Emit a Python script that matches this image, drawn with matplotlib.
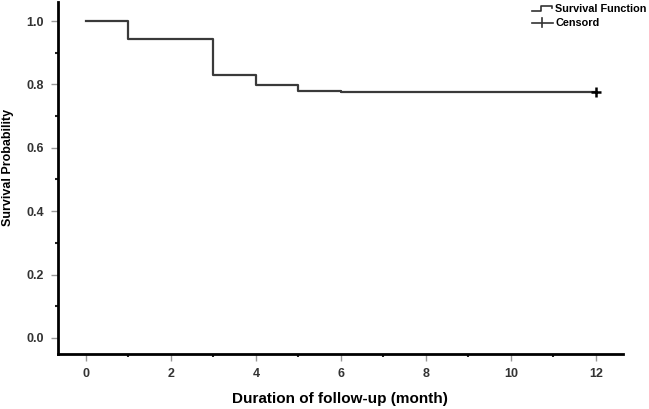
import matplotlib
matplotlib.use("Agg")
import matplotlib.pyplot as plt
from matplotlib.legend_handler import HandlerBase
from matplotlib.lines import Line2D

matplotlib.rcParams.update({'font.family': ['Liberation Sans', 'DejaVu Sans'],
                            'font.weight': 'bold'})

# survival step function (time in months, survival probability)
times = [0, 1, 3, 4, 5, 6, 12]
survival = [1.0, 0.944, 0.831, 0.797, 0.780, 0.776, 0.776]
censor_time = [12]
censor_surv = [0.776]

x_ticks = [0, 2, 4, 6, 8, 10, 12]
y_ticks = [0.0, 0.2, 0.4, 0.6, 0.8, 1.0]


class StepHandler(HandlerBase):
    # legend icon drawn as a small step
    def create_artists(self, legend, orig_handle, xdescent, ydescent,
                       width, height, fontsize, trans):
        xs = [0, width * 0.45, width * 0.45, width * 0.95, width * 0.95]
        ys = [height * 0.2, height * 0.2, height * 0.85, height * 0.85, height * 0.55]
        line = Line2D(xs, ys, color="#333333", lw=1.2, transform=trans)
        return [line]


class CensorHandler(HandlerBase):
    # legend icon: horizontal line with a tick in the middle
    def create_artists(self, legend, orig_handle, xdescent, ydescent,
                       width, height, fontsize, trans):
        line = Line2D([0, width], [height * 0.45, height * 0.45],
                      color="#333333", lw=1.2, transform=trans)
        tick = Line2D([width * 0.5, width * 0.5], [-height * 0.1, height],
                      color="#333333", lw=1.2, transform=trans)
        return [line, tick]


fig = plt.figure(figsize=(6.49, 4.09), dpi=100)
ax = fig.add_axes([0.089, 0.135, 0.871, 0.86])

step_line, = ax.step(times, survival, where="post", color="#3a3a3a", lw=1.6)
cens, = ax.plot(censor_time, censor_surv, "+", color="black", ms=7, mew=1.8)

ax.set_xlim(-0.66, 12.64)
ax.set_ylim(-0.05, 1.06)
ax.set_xticks(x_ticks)
ax.set_yticks(y_ticks)
ax.set_xticks([1, 3, 5, 7, 9, 11], minor=True)
ax.set_yticks([0.1, 0.3, 0.5, 0.7, 0.9], minor=True)
ax.set_yticklabels(["%.1f" % v for v in y_ticks])

for side in ["top", "right"]:
    ax.spines[side].set_visible(False)
for side in ["left", "bottom"]:
    ax.spines[side].set_linewidth(2)
    ax.spines[side].set_color("black")

ax.tick_params(which="major", length=5, width=1, color="#999999",
               labelsize=9, labelcolor="#333333", pad=5)
ax.tick_params(which="minor", length=2, width=1.5, color="#222222")

ax.set_xlabel("Duration of follow-up (month)", fontsize=11, fontweight="bold",
              labelpad=9)
ax.set_ylabel("Survival Probability", fontsize=9, fontweight="bold")
ax.yaxis.set_label_coords(-0.078, 0.53)

fig.legend([step_line, cens], ["Survival Function", "Censord"],
           handler_map={step_line: StepHandler(), cens: CensorHandler()},
           loc="upper right", bbox_to_anchor=(1.0, 0.995), frameon=False,
           fontsize=7.8, handlelength=1.9, handletextpad=0.25,
           labelspacing=0.35, borderaxespad=0.0, borderpad=0.2)

plt.savefig("out.png", dpi=100)
